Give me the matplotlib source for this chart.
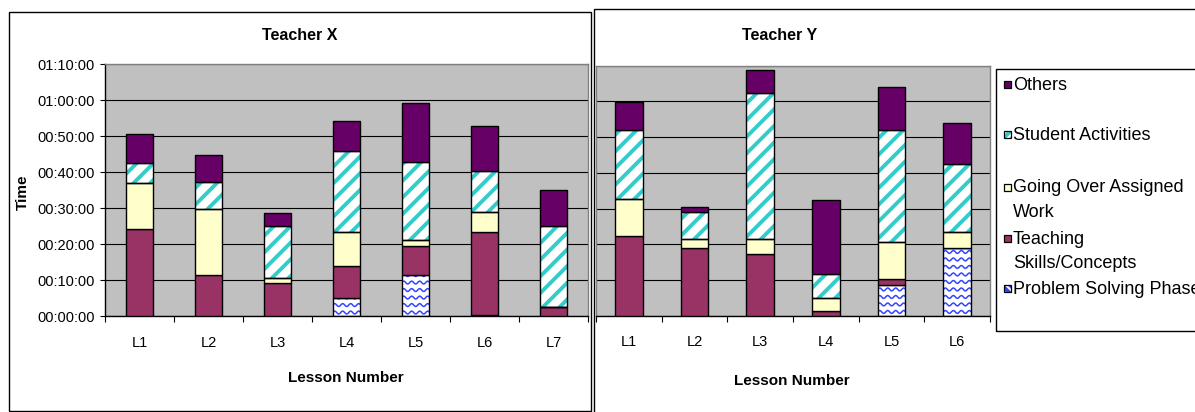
import numpy as np
import matplotlib
matplotlib.use("Agg")
import matplotlib.pyplot as plt
from matplotlib.patches import Rectangle
from matplotlib.ticker import FuncFormatter

plt.rcParams['font.family'] = ['Liberation Sans', 'DejaVu Sans']
plt.rcParams['hatch.linewidth'] = 2.8

# ---------------- data (minutes) ----------------
series_names = ["Problem Solving Phase", "Teaching\nSkills/Concepts",
                "Going Over Assigned\nWork", "Student Activities", "Others"]

x_lessons = ["L1", "L2", "L3", "L4", "L5", "L6", "L7"]
x_problem = [0, 0, 0, 5.0, 11.4, 0.3, 0]
x_teaching = [24.25, 11.5, 9.3, 9.0, 8.1, 23.1, 2.6]
x_going = [12.75, 18.3, 1.3, 9.4, 1.7, 5.6, 0]
x_student = [5.5, 7.6, 14.5, 22.6, 21.7, 11.5, 22.5]
x_others = [8.2, 7.3, 3.5, 8.2, 16.35, 12.4, 9.9]

y_lessons = ["L1", "L2", "L3", "L4", "L5", "L6"]
y_problem = [0, 0, 0, 0, 8.6, 18.9]
y_teaching = [22.4, 18.9, 17.2, 1.2, 1.8, 0]
y_going = [10.2, 2.7, 4.3, 3.7, 10.3, 4.4]
y_student = [19.4, 7.5, 40.8, 6.8, 31.3, 19.3]
y_others = [7.7, 1.4, 6.6, 20.6, 12.0, 11.4]

y_ticks_min = [0, 10, 20, 30, 40, 50, 60, 70]

# ---------------- styles ----------------
W, H = 1195, 412
C_OTHERS = "#660066"
C_TEACH = "#993366"
C_GOING = "#FFFFCC"
C_STUD = "#33CCCC"
C_PROB = "#3344FF"
BG = "#C0C0C0"


def hms(v, pos=None):
    total = int(round(v * 60))
    h, rem = divmod(total, 3600)
    m, s = divmod(rem, 60)
    return f"{h:02d}:{m:02d}:{s:02d}"


fig = plt.figure(figsize=(W / 100, H / 100), dpi=100)


def px_rect(x0, y0, x1, y1):
    return [x0 / W, 1 - y1 / H, (x1 - x0) / W, (y1 - y0) / H]


# chart frames
for (x0, y0, x1, y1) in [(9, 12, 591, 411), (594, 9, 1205, 425)]:
    fig.add_artist(Rectangle((x0 / W, 1 - y1 / H), (x1 - x0) / W, (y1 - y0) / H,
                             transform=fig.transFigure, fill=False,
                             edgecolor="black", lw=1.0, zorder=0))

axL = fig.add_axes(px_rect(105, 64.3, 588, 316.3))
axR = fig.add_axes(px_rect(596, 65.7, 990, 315.7))


def waves(ax, container, px_x, px_y):
    for rect in container.patches:
        h = rect.get_height()
        if h <= 0:
            continue
        x0 = rect.get_x()
        w = rect.get_width()
        y0 = rect.get_y()
        period = 8.0 / px_x
        amp = 1.4 / px_y
        step = 7.5 / px_y
        xs = np.linspace(x0, x0 + w, 80)
        base = y0 + step * 0.5
        while base < y0 + h + step:
            ys = base + amp * np.sin(2 * np.pi * (xs - x0) / period)
            ln, = ax.plot(xs, ys, color=C_PROB, lw=1.1, zorder=2.5)
            ln.set_clip_path(rect)
            base += step


def draw(ax, labels, prob, teach, going, stud, others, width, show_y):
    n = len(labels)
    idx = np.arange(n)
    ax.set_facecolor(BG)
    ax.set_xlim(-0.5, n - 0.5)
    ax.set_ylim(0, 70)
    ax.set_axisbelow(True)
    bbox = ax.get_position()
    px_x = bbox.width * W / n
    px_y = bbox.height * H / 70.0

    b0 = np.zeros(n)
    c = ax.bar(idx, prob, width, bottom=b0, color="white", edgecolor="none", lw=0, zorder=2)
    waves(ax, c, px_x, px_y)
    ax.bar(idx, prob, width, bottom=b0, fill=False, edgecolor="black", lw=1.0, zorder=3)
    b1 = b0 + np.array(prob)
    ax.bar(idx, teach, width, bottom=b1, color=C_TEACH, edgecolor="black", lw=1.0, zorder=3)
    b2 = b1 + np.array(teach)
    ax.bar(idx, going, width, bottom=b2, color=C_GOING, edgecolor="black", lw=1.0, zorder=3)
    b3 = b2 + np.array(going)
    ax.bar(idx, stud, width, bottom=b3, color="white", edgecolor=C_STUD, lw=0,
           hatch="//", zorder=2)
    ax.bar(idx, stud, width, bottom=b3, fill=False, edgecolor="black", lw=1.0, zorder=3)
    b4 = b3 + np.array(stud)
    ax.bar(idx, others, width, bottom=b4, color=C_OTHERS, edgecolor="black", lw=1.0, zorder=3)

    ax.set_yticks(y_ticks_min)
    ax.yaxis.set_major_formatter(FuncFormatter(hms))
    ax.grid(axis="y", color="black", lw=0.8)
    ax.set_xticks(idx)
    ax.set_xticklabels(labels, fontsize=10.5)
    ax.set_xticks(np.arange(n + 1) - 0.5, minor=True)
    ax.tick_params(axis="x", which="major", length=0, pad=14)
    ax.tick_params(axis="x", which="minor", length=4.5, width=0.8, color="black")
    if show_y:
        ax.tick_params(axis="y", length=3.6, width=0.8, pad=4, labelsize=10.5)
    else:
        ax.tick_params(axis="y", length=0, labelleft=False)
    for s in ["top", "right"]:
        ax.spines[s].set_color("#808080")
        ax.spines[s].set_linewidth(1.0)
    for s in ["left", "bottom"]:
        ax.spines[s].set_color("black")
        ax.spines[s].set_linewidth(1.0)
    if not show_y:
        ax.spines["left"].set_color("#808080")


draw(axL, x_lessons, x_problem, x_teaching, x_going, x_student, x_others, 0.4, True)
draw(axR, y_lessons, y_problem, y_teaching, y_going, y_student, y_others, 0.42, False)

# titles / labels
fig.text(300 / W, 1 - 36 / H, "Teacher X", ha="center", va="center",
         fontsize=11.5, fontweight="bold")
fig.text(780 / W, 1 - 35 / H, "Teacher Y", ha="center", va="center",
         fontsize=11.5, fontweight="bold")
fig.text(346 / W, 1 - 378 / H, "Lesson Number", ha="center", va="center",
         fontsize=11, fontweight="bold")
fig.text(792 / W, 1 - 381 / H, "Lesson Number", ha="center", va="center",
         fontsize=11, fontweight="bold")
fig.text(23 / W, 1 - 192 / H, "Time", ha="center", va="center", rotation=90,
         fontsize=11, fontweight="bold")

# legend box
fig.add_artist(Rectangle((996 / W, 1 - 331 / H), 220 / W, (331 - 69) / H,
                         transform=fig.transFigure, facecolor="white",
                         edgecolor="black", lw=1.0, zorder=1))
legend_order = [4, 3, 2, 1, 0]
legend_styles = {
    4: dict(facecolor=C_OTHERS, hatch=None, hc=None),
    3: dict(facecolor="white", hatch="////", hc=C_STUD),
    2: dict(facecolor=C_GOING, hatch=None, hc=None),
    1: dict(facecolor=C_TEACH, hatch=None, hc=None),
    0: dict(facecolor="white", hatch="\\\\\\\\", hc=C_PROB),
}
first_centers = [83, 133, 186, 237, 287]
line_step = 24
sz = 7
for k, yc in zip(legend_order, first_centers):
    st = legend_styles[k]
    mc = yc + 1.5
    xy = (1004 / W, 1 - (mc + sz / 2) / H)
    if st["hatch"]:
        fig.add_artist(Rectangle(xy, sz / W, sz / H,
                                 transform=fig.transFigure, facecolor=st["facecolor"],
                                 edgecolor=st["hc"], lw=0, hatch=st["hatch"], zorder=2))
        fig.add_artist(Rectangle(xy, sz / W, sz / H,
                                 transform=fig.transFigure, fill=False,
                                 edgecolor="black", lw=0.9, zorder=3))
    else:
        fig.add_artist(Rectangle(xy, sz / W, sz / H,
                                 transform=fig.transFigure, facecolor=st["facecolor"],
                                 edgecolor="black", lw=0.9, zorder=3))
    for j, line in enumerate(series_names[k].split("\n")):
        fig.text(1013 / W, 1 - (yc + 6.5 + j * line_step) / H, line, ha="left",
                 va="baseline", fontsize=13, zorder=4)

fig.savefig("out.png", dpi=100)
